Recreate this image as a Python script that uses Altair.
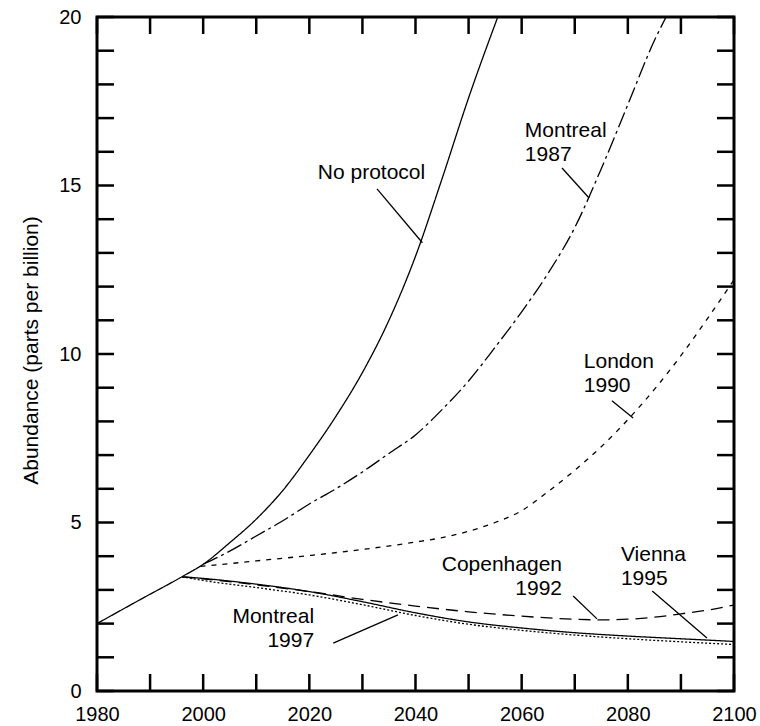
import altair as alt
import pandas as pd

# ---- data ----
series_names = ["No protocol", "Montreal 1987", "London 1990",
                "Copenhagen 1992", "Vienna 1995", "Montreal 1997"]

noprot_years = [1980, 1988, 1996, 2000, 2005, 2010, 2015, 2020, 2025, 2030, 2035, 2040, 2045, 2050, 2055.5]
noprot_vals = [2.0, 2.7, 3.39, 3.76, 4.4, 5.1, 5.95, 7.0, 8.15, 9.45, 11.0, 12.9, 15.2, 17.6, 20.0]

m87_years = [2000, 2005, 2010, 2015, 2020, 2025, 2030, 2035, 2040, 2045, 2050, 2055, 2060, 2065, 2070, 2075, 2080, 2085, 2087.2]
m87_vals = [3.76, 4.15, 4.6, 5.05, 5.55, 6.0, 6.5, 7.05, 7.6, 8.35, 9.2, 10.2, 11.25, 12.4, 13.75, 15.5, 17.4, 19.3, 20.0]

london_years = [1999.5, 2005, 2010, 2020, 2030, 2040, 2045, 2050, 2055, 2060, 2065, 2070, 2075, 2080, 2085, 2090, 2095, 2100]
london_vals = [3.7, 3.78, 3.86, 4.02, 4.2, 4.42, 4.55, 4.74, 5.0, 5.35, 5.92, 6.55, 7.25, 8.05, 8.95, 9.95, 11.05, 12.2]

copen_years = [1996, 2000, 2010, 2020, 2030, 2040, 2050, 2060, 2070, 2075, 2080, 2085, 2090, 2095, 2100]
copen_vals = [3.39, 3.33, 3.15, 2.95, 2.72, 2.52, 2.35, 2.22, 2.13, 2.11, 2.13, 2.19, 2.29, 2.4, 2.55]

vienna_years = [1996, 2000, 2010, 2020, 2030, 2040, 2050, 2060, 2070, 2080, 2090, 2100]
vienna_vals = [3.39, 3.34, 3.17, 2.95, 2.65, 2.32, 2.05, 1.87, 1.73, 1.63, 1.55, 1.47]

m97_years = [1996, 2000, 2010, 2020, 2030, 2040, 2050, 2060, 2070, 2080, 2090, 2100]
m97_vals = [3.39, 3.28, 3.07, 2.85, 2.56, 2.24, 1.98, 1.8, 1.66, 1.55, 1.46, 1.38]

x_tick_values = list(range(1980, 2101, 10))
x_label_values = list(range(1980, 2101, 20))
y_tick_values = list(range(0, 21))
y_label_values = [0, 5, 10, 15, 20]
y_title = "Abundance (parts per billion)"

# annotation text lines (anchor year, anchor value)
label_text = ["No protocol", "Montreal", "1987", "London", "1990", "Vienna", "1995",
              "Copenhagen", "1992", "Montreal", "1997"]
label_year = [2021.6, 2060.6, 2060.6, 2071.7, 2071.7, 2078.7, 2078.7,
              2067.6, 2067.6, 2020.9, 2020.9]
label_value = [15.19, 16.44, 15.73, 9.58, 8.87, 3.86, 3.15,
               3.56, 2.85, 2.02, 1.31]
label_align = ["left"] * 7 + ["right"] * 4

# leader lines
lead_year1 = [2032.75, 2067.6, 2077.0, 2069.7, 2084.6, 2024.5]
lead_val1 = [14.90, 15.52, 8.61, 2.82, 2.97, 1.42]
lead_year2 = [2041.3, 2072.7, 2081.0, 2074.2, 2094.9, 2036.7]
lead_val2 = [13.3, 14.63, 8.10, 2.14, 1.57, 2.26]

# ---- build tables ----
all_years = [noprot_years, m87_years, london_years, copen_years, vienna_years, m97_years]
all_vals = [noprot_vals, m87_vals, london_vals, copen_vals, vienna_vals, m97_vals]
rows = []
for name, ys, vs in zip(series_names, all_years, all_vals):
    for y, v in zip(ys, vs):
        rows.append({"series": name, "year": y, "value": v})
lines_df = pd.DataFrame(rows)

W, H = 637, 674
TL = 17
FONT = "Liberation Sans"

x_scale = alt.Scale(domain=[1980, 2100], nice=False, zero=False)
y_scale = alt.Scale(domain=[0, 20], nice=False)

x_axis = alt.Axis(values=x_label_values, format="d", labelFlush=False,
                  labelPadding=13, ticks=False, tickSize=0, domain=False,
                  grid=False, labelFontSize=20, labelFont=FONT, labelColor="black")
y_axis = alt.Axis(values=y_label_values, labelFlush=False, labelPadding=16,
                  ticks=False, tickSize=0, domain=False, grid=False,
                  labelFontSize=20, labelFont=FONT, labelColor="black",
                  titleFont=FONT, titleFontSize=21, titleFontWeight="normal",
                  titleColor="black", titleAngle=270, titleX=-60, titleY=333,
                  titleAlign="center", titleBaseline="alphabetic")


def X(field):
    return alt.X(field, scale=x_scale, axis=x_axis, title=None)


def Y(field):
    return alt.Y(field, scale=y_scale, axis=y_axis, title=y_title)


dash_range = [[1, 0], [16, 4, 3, 4], [5, 6], [12, 7], [1, 0], [2, 2]]

lines = alt.Chart(lines_df).mark_line(color="black", strokeWidth=1.3, clip=True,
                                      interpolate="monotone").encode(
    x=X("year:Q"),
    y=Y("value:Q"),
    strokeDash=alt.StrokeDash("series:N", scale=alt.Scale(domain=series_names, range=dash_range),
                              legend=None),
    detail="series:N",
)

xt_df = pd.DataFrame({"year": x_tick_values})
yt_df = pd.DataFrame({"value": y_tick_values})

tick_style = dict(color="black", strokeWidth=2.5)
bottom_ticks = alt.Chart(xt_df).mark_rule(**tick_style).encode(
    x=X("year:Q"), y=alt.value(H - TL), y2=alt.value(H))
top_ticks = alt.Chart(xt_df).mark_rule(**tick_style).encode(
    x=X("year:Q"), y=alt.value(0), y2=alt.value(TL))
left_ticks = alt.Chart(yt_df).mark_rule(**tick_style).encode(
    y=Y("value:Q"), x=alt.value(0), x2=alt.value(TL))
right_ticks = alt.Chart(yt_df).mark_rule(**tick_style).encode(
    y=Y("value:Q"), x=alt.value(W - TL), x2=alt.value(W))

lab_df = pd.DataFrame({"year": label_year, "value": label_value,
                       "text": label_text, "align": label_align})
text_left = alt.Chart(lab_df).transform_filter(alt.datum.align == "left").mark_text(
    align="left", baseline="alphabetic", fontSize=21, font=FONT, color="black").encode(
    x=X("year:Q"), y=Y("value:Q"), text="text:N")
text_right = alt.Chart(lab_df).transform_filter(alt.datum.align == "right").mark_text(
    align="right", baseline="alphabetic", fontSize=21, font=FONT, color="black").encode(
    x=X("year:Q"), y=Y("value:Q"), text="text:N")

lead_df = pd.DataFrame({"x1": lead_year1, "y1": lead_val1, "x2": lead_year2, "y2": lead_val2})
leaders = alt.Chart(lead_df).mark_rule(color="black", strokeWidth=1.3).encode(
    x=X("x1:Q"), y=Y("y1:Q"), x2="x2:Q", y2="y2:Q")

chart = alt.layer(lines, bottom_ticks, top_ticks, left_ticks, right_ticks,
                  leaders, text_left, text_right).properties(
    width=W, height=H,
    autosize=alt.AutoSizeParams(type="none"),
    padding={"left": 97, "top": 17, "right": 26, "bottom": 35},
    background="white",
).configure_view(stroke="black", strokeWidth=3)

chart.save("out.html", embed_options={"renderer": "svg", "actions": False})
